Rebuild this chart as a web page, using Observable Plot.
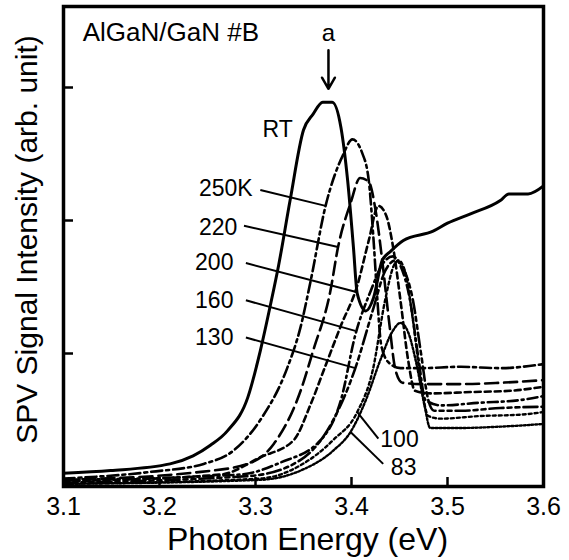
<!DOCTYPE html>
<html>
<head>
<meta charset="utf-8">
<script src="https://cdn.jsdelivr.net/npm/d3@7"></script>
<script src="https://cdn.jsdelivr.net/npm/@observablehq/plot@0.6"></script>
<style>
  html, body { margin: 0; padding: 0; background: #fff; }
  #chart svg { display: block; }
</style>
</head>
<body>
<div id="chart"></div>
<script>
// ---- Data ----
const seriesNames = ["RT", "250K", "220", "200", "160", "130", "100", "83"];

const rtE = [3.100,3.149,3.211,3.235,3.253,3.271,3.292,3.305,3.316,3.324,3.336,3.350,3.360,3.370,3.380,3.389,3.396,3.402,3.406,3.415,3.423,3.432,3.441,3.454,3.485,3.500,3.524,3.555,3.564,3.584,3.600];
const rtI = [0.10,0.12,0.17,0.23,0.31,0.42,0.67,1.02,1.38,1.66,2.15,2.68,2.80,2.89,2.89,2.70,2.30,1.80,1.45,1.32,1.42,1.70,1.77,1.85,1.92,1.98,2.05,2.15,2.20,2.20,2.26];

const k250E = [3.100,3.191,3.246,3.277,3.305,3.333,3.347,3.357,3.373,3.391,3.401,3.411,3.418,3.423,3.427,3.431,3.439,3.451,3.472,3.514,3.555,3.600];
const k250I = [0.06,0.11,0.17,0.27,0.50,0.89,1.20,1.53,2.11,2.49,2.61,2.51,2.30,1.85,1.40,1.06,0.93,0.89,0.89,0.90,0.89,0.92];

const k220E = [3.100,3.243,3.292,3.319,3.347,3.360,3.378,3.386,3.399,3.409,3.418,3.425,3.432,3.439,3.446,3.453,3.472,3.514,3.555,3.600];
const k220I = [0.05,0.11,0.17,0.32,0.72,1.02,1.47,1.80,2.13,2.32,2.29,2.08,1.70,1.25,0.87,0.78,0.77,0.77,0.78,0.80];

const k200E = [3.100,3.264,3.305,3.340,3.357,3.373,3.389,3.406,3.418,3.428,3.436,3.444,3.451,3.459,3.466,3.482,3.524,3.566,3.600];
const k200I = [0.04,0.09,0.22,0.35,0.61,0.91,1.21,1.51,1.85,2.11,2.04,1.77,1.40,0.95,0.72,0.70,0.71,0.72,0.75];

const k160E = [3.100,3.284,3.326,3.368,3.389,3.404,3.420,3.433,3.443,3.451,3.461,3.470,3.477,3.493,3.534,3.576,3.600];
const k160I = [0.05,0.09,0.18,0.35,0.65,1.14,1.47,1.68,1.73,1.66,1.40,0.95,0.65,0.61,0.63,0.65,0.68];

const k130E = [3.100,3.295,3.347,3.378,3.404,3.422,3.435,3.446,3.454,3.464,3.472,3.480,3.486,3.514,3.555,3.600];
const k130I = [0.03,0.08,0.20,0.46,0.89,1.32,1.62,1.70,1.64,1.40,1.02,0.65,0.57,0.57,0.59,0.60];

const k100E = [3.100,3.305,3.347,3.381,3.406,3.422,3.435,3.444,3.449,3.456,3.464,3.472,3.480,3.493,3.534,3.576,3.600];
const k100I = [0.02,0.06,0.16,0.35,0.56,0.87,1.40,1.66,1.70,1.61,1.25,0.80,0.53,0.51,0.53,0.54,0.56];

const k83E = [3.100,3.305,3.347,3.381,3.399,3.415,3.430,3.443,3.451,3.459,3.468,3.476,3.482,3.514,3.555,3.600];
const k83I = [0.02,0.05,0.12,0.27,0.41,0.65,0.95,1.17,1.23,1.16,0.91,0.61,0.44,0.44,0.45,0.47];

const xTicks = [3.1, 3.2, 3.3, 3.4, 3.5, 3.6];
const yTicks = [1, 2, 3];

// labels and leader lines (data units)
const leaderNames = ["250K", "220", "200", "160", "130"];
const leaderTextE = [3.297, 3.281, 3.277, 3.277, 3.277];
const leaderTextI = [2.24, 1.95, 1.68, 1.40, 1.12];
const leaderE1 = [3.305, 3.288, 3.290, 3.290, 3.290];
const leaderI1 = [2.23, 1.96, 1.68, 1.40, 1.12];
const leaderE2 = [3.373, 3.386, 3.406, 3.404, 3.404];
const leaderI2 = [2.11, 1.80, 1.46, 1.17, 0.89];

const lowNames = ["100", "83"];
const lowTextE = [3.430, 3.441];
const lowTextI = [0.35, 0.14];
const lowE1 = [3.428, 3.433];
const lowI1 = [0.36, 0.17];
const lowE2 = [3.406, 3.399];
const lowI2 = [0.56, 0.41];

// ---- Build tables ----
const seriesArrays = [
  [rtE, rtI], [k250E, k250I], [k220E, k220I], [k200E, k200I],
  [k160E, k160I], [k130E, k130I], [k100E, k100I], [k83E, k83I]
];
const tables = seriesArrays.map(([E, I], k) => E.map((e, i) => ({series: seriesNames[k], E: e, I: I[i]})));
const dashes = [null, "11,4,3,4", "13,6", "6,4", "10,4,2,4", "14,4,4,4,4,4", "3,3", "2,2"];
const widths = [3, 2.6, 2.6, 2.6, 2.6, 2.6, 2.4, 2.4];

const leaders = leaderNames.map((n, i) => ({n, tx: leaderTextE[i], ty: leaderTextI[i], x1: leaderE1[i], y1: leaderI1[i], x2: leaderE2[i], y2: leaderI2[i]}));
const lows = lowNames.map((n, i) => ({n, tx: lowTextE[i], ty: lowTextI[i], x1: lowE1[i], y1: lowI1[i], x2: lowE2[i], y2: lowI2[i]}));

const font = "'Liberation Sans', Arial, Helvetica, sans-serif";

const chart = Plot.plot({
  width: 569,
  height: 560,
  marginLeft: 63,
  marginRight: 26,
  marginTop: 6,
  marginBottom: 74,
  style: {fontFamily: font, background: "#fff", color: "#000"},
  x: {domain: [3.1, 3.6]},
  y: {domain: [0, 480 / 133]},
  marks: [
    ...tables.map((t, k) => Plot.line(t, {
      x: "E", y: "I", stroke: "#000", strokeWidth: widths[k],
      strokeDasharray: dashes[k], curve: "monotone-x", strokeLinejoin: "round"
    })),
    // leaders
    Plot.link(leaders, {x1: "x1", y1: "y1", x2: "x2", y2: "y2", stroke: "#000", strokeWidth: 2}),
    Plot.link(lows, {x1: "x1", y1: "y1", x2: "x2", y2: "y2", stroke: "#000", strokeWidth: 2}),
    Plot.text(leaders, {x: "tx", y: "ty", text: "n", textAnchor: "end", fontSize: 23, fill: "#000"}),
    Plot.text(lows, {x: "tx", y: "ty", text: "n", textAnchor: "start", fontSize: 23, fill: "#000"}),
    Plot.text(["RT"], {x: 3.323, y: 2.68, text: d => d, fontSize: 23, fill: "#000"}),
    Plot.text(["AlGaN/GaN #B"], {x: 3.120, y: 3.41, text: d => d, textAnchor: "start", fontSize: 26, fill: "#000"}),
    Plot.text(["a"], {x: 3.376, y: 3.41, text: d => d, fontSize: 24, fill: "#000"}),
    Plot.arrow([0], {x1: 3.376, y1: 3.28, x2: 3.376, y2: 2.99, stroke: "#000", strokeWidth: 2.5, headLength: 13, bend: 0, inset: 0}),
    // inward ticks
    Plot.tickX(xTicks, {x: d => d, insetTop: 471, stroke: "#000", strokeWidth: 2.5}),
    Plot.tickY(yTicks, {y: d => d, insetRight: 470, stroke: "#000", strokeWidth: 2.5}),
    Plot.axisX(xTicks, {tickSize: 0, tickPadding: 11, fontSize: 25, label: null, fill: "#000"}),
    Plot.axisY({ticks: [], label: null, tickSize: 0}),
    Plot.frame({stroke: "#000", strokeWidth: 3.5}),
    Plot.text(["Photon Energy (eV)"], {frameAnchor: "bottom", dy: 53, dx: 4, lineAnchor: "middle", textAnchor: "middle", text: d => d, fontSize: 32, fill: "#000"}),
    Plot.text(["SPV Signal Intensity (arb. unit)"], {frameAnchor: "left", dx: -36, dy: -7, rotate: -90, lineAnchor: "middle", textAnchor: "middle", text: d => d, fontSize: 30, fill: "#000"})
  ]
});
document.getElementById("chart").appendChild(chart);
</script>
</body>
</html>
